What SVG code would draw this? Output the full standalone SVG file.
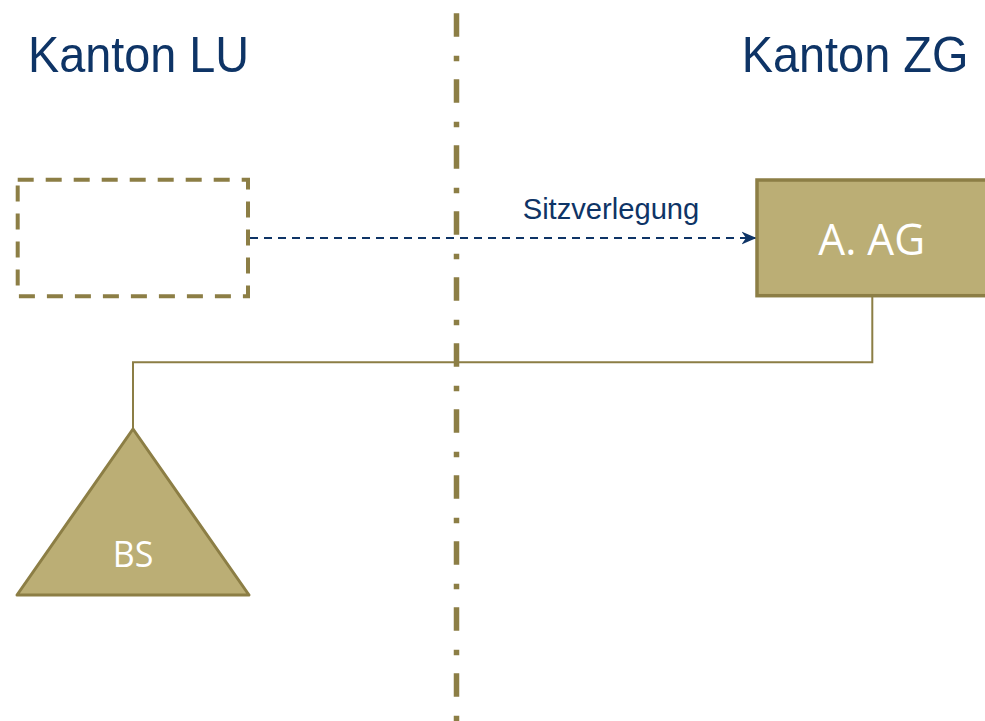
<svg xmlns="http://www.w3.org/2000/svg" width="985" height="721" viewBox="0 0 985 721">
  <defs>
    <style>
      .title { font-family: "Liberation Sans", Arial, sans-serif; fill: #0E3466; }
      .node-fill { fill: #BBAE75; stroke: #8C7E45; }
      .node-label { font-family: "Open Sans", "Noto Sans", sans-serif; fill: #FFFFFF; text-anchor: middle; }
      .link { fill: none; stroke: #8C7E45; stroke-width: 2; }
      .move { fill: none; stroke: #0E3466; stroke-width: 2; stroke-dasharray: 8 6; }
    </style>
    <marker id="stealth" markerUnits="userSpaceOnUse" markerWidth="16" markerHeight="16" refX="15" refY="7" orient="auto">
      <path d="M0,0.5 L15,7 L0,13.5 L4.5,7 Z" fill="#0E3466"/>
    </marker>
  </defs>

  <rect width="985" height="721" fill="#FFFFFF"/>

  <!-- canton border: dash-dot line -->
  <line x1="456.5" y1="13.3" x2="456.5" y2="721" stroke="#8C7E45" stroke-width="5.5" stroke-dasharray="23.5 19 5.5 18"/>

  <!-- canton headings -->
  <text class="title" x="28" y="71.7" font-size="50" textLength="221" lengthAdjust="spacingAndGlyphs">Kanton LU</text>
  <text class="title" x="741.7" y="72.3" font-size="50" textLength="226.7" lengthAdjust="spacingAndGlyphs">Kanton ZG</text>

  <!-- connectors -->
  <g id="connectors">
    <path class="link" d="M872.3,295.7 V362.2 H133 V429"/>
    <line class="move" x1="250" y1="238" x2="756.5" y2="238" marker-end="url(#stealth)"/>
    <text x="522.7" y="219" font-family="Liberation Sans, Arial, sans-serif" font-size="30" fill="#0E3466" textLength="176.6" lengthAdjust="spacingAndGlyphs">Sitzverlegung</text>
  </g>

  <!-- former seat (empty, dashed) -->
  <g id="old-seat">
    <path d="M17.7,179.7 H248 V296.3 H17.7 Z" fill="none" stroke="#8C7E45" stroke-width="4" stroke-dasharray="16 12"/>
  </g>

  <!-- company A. AG -->
  <g id="a-ag">
    <rect class="node-fill" x="757" y="180" width="240" height="115.7" stroke-width="3.5"/>
    <text class="node-label" x="871.7" y="255" font-size="44" textLength="106.7" lengthAdjust="spacingAndGlyphs">A. AG</text>
  </g>

  <!-- branch BS -->
  <g id="bs">
    <polygon class="node-fill" points="133,429 249,595 17,595" stroke-width="3" stroke-linejoin="round"/>
    <text class="node-label" x="133" y="566.7" font-size="36" textLength="40.6" lengthAdjust="spacingAndGlyphs">BS</text>
  </g>
</svg>
